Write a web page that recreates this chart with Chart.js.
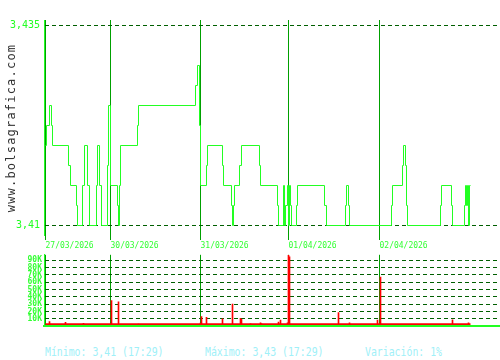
<!DOCTYPE html>
<html>
<head>
<meta charset="utf-8">
<script src="https://cdn.jsdelivr.net/npm/chart.js@4.4.1/dist/chart.umd.min.js"></script>
<style>
  html, body { margin: 0; padding: 0; background: #ffffff; }
  #wrap { position: relative; width: 500px; height: 360px; overflow: hidden; background: #ffffff; }
  canvas { position: absolute; left: 0; }
  #c1 { top: 0; }
  #c2 { top: 248px; }
  .wm { position: absolute; left: -79px; top: 121px; width: 180px; height: 14px; line-height: 14px;
        text-align: center; transform: rotate(-90deg); font-family: 'DejaVu Sans Mono', monospace;
        font-size: 12px; letter-spacing: 1.2px; color: #333333; white-space: nowrap; }
  .stat { position: absolute; top: 346px; height: 12px; line-height: 12px; font-family: 'DejaVu Sans Mono', monospace;
          font-size: 12px; color: #a0f0f8; white-space: nowrap; transform: scaleX(0.82); transform-origin: 0 0; }
</style>
</head>
<body>
<div id="wrap">
  <canvas id="c1" width="500" height="250"></canvas>
  <canvas id="c2" width="500" height="85"></canvas>
  <div class="wm">www.bolsagrafica.com</div>
  <div class="stat" style="left:45px">Mínimo: 3,41 (17:29)</div>
  <div class="stat" style="left:205px">Máximo: 3,43 (17:29)</div>
  <div class="stat" style="left:365px">Variación: 1%</div>
</div>
<script>
// ---- data (time index = intraday slot) ----
const dayStarts = [1, 66, 156, 244, 335];
const dateLabels = ["27/03/2026", "30/03/2026", "31/03/2026", "01/04/2026", "02/04/2026"];
const priceTicks = [3.41, 3.435];
const volTicks = [10000, 20000, 30000, 40000, 50000, 60000, 70000, 80000, 90000];

const priceT = [1, 2, 5, 7, 8, 24, 26, 32, 33, 38, 40, 43, 45, 52, 53, 55, 57, 63, 64,
  66, 73, 74, 75, 76, 93, 94, 151, 153, 155,
  156, 162, 163, 178, 179, 187, 188, 189, 190, 195, 197, 215, 216, 233, 234, 239, 240, 241, 243,
  244, 245, 246, 247, 252, 253, 280, 282, 301, 302, 304, 305,
  347, 348, 358, 359, 361, 362, 363, 396, 397, 407, 408, 420, 421, 422, 423, 424, 425, 426];
const priceV = [3.42, 3.4225, 3.425, 3.4225, 3.42, 3.4175, 3.415, 3.4125, 3.41, 3.415, 3.42, 3.415, 3.41, 3.415, 3.42, 3.415, 3.41, 3.4175, 3.425,
  3.415, 3.4125, 3.41, 3.415, 3.42, 3.4225, 3.425, 3.4275, 3.43, 3.4225,
  3.415, 3.4175, 3.42, 3.4175, 3.415, 3.4125, 3.41, 3.4125, 3.415, 3.4175, 3.42, 3.4175, 3.415, 3.4125, 3.41, 3.415, 3.41, 3.4125, 3.415,
  3.41, 3.415, 3.4125, 3.41, 3.4125, 3.415, 3.4125, 3.41, 3.4125, 3.415, 3.4125, 3.41,
  3.4125, 3.415, 3.4175, 3.42, 3.4175, 3.4125, 3.41, 3.4125, 3.415, 3.4125, 3.41, 3.4125, 3.415, 3.4125, 3.415, 3.41, 3.415, 3.415];

const volT = [5, 18, 21, 31, 39, 67, 74, 94, 116, 156, 157, 162, 178, 188, 196, 197, 206, 216, 217, 219,
  234, 236, 239, 240, 241, 243, 244, 245, 272, 277, 279, 280, 282, 284, 294, 298, 305, 311,
  326, 332, 333, 336, 347, 358, 408, 423, 424];
const volV = [6000, 1200, 5000, 1200, 3800, 35000, 33000, 2600, 1200, 4000, 13000, 12000, 10000, 30000, 10500, 9000, 3000, 4200, 3000, 1300,
  5500, 8000, 1200, 1200, 1200, 4500, 97000, 95000, 1000, 1000, 1000, 1000, 1000, 1000, 18500, 1000, 4500, 1000,
  1000, 1000, 8000, 67000, 1000, 1000, 8300, 1000, 4500];
const minVolT = [1, 426];
const minVolV = [2500, 2500];

// ---- styling ----
const BRIGHT = '#22ff22';
const DAYLINE = '#00a000';
const DASH = '#005f00';
Chart.defaults.font.family = "'DejaVu Sans Mono', monospace";
Chart.defaults.animation = false;

const xBase = (extra) => Object.assign({
  type: 'linear', min: -0.5, max: 455.5, offset: false,
  afterBuildTicks: a => { a.ticks = dayStarts.map(v => ({ value: v })); }
}, extra);

new Chart(document.getElementById('c1'), {
  type: 'line',
  data: {
    datasets: [{
      data: priceT.map((t, i) => ({ x: t, y: priceV[i] })),
      borderColor: BRIGHT, borderWidth: 1, pointRadius: 0, fill: false, stepped: true, tension: 0
    }]
  },
  options: {
    responsive: false, devicePixelRatio: 1,
    layout: { padding: { top: 20, left: 0, right: 0, bottom: 0 } },
    plugins: { legend: { display: false }, tooltip: { enabled: false } },
    scales: {
      x: xBase({
        afterFit: a => { a.height = 15; },
        ticks: { autoSkip: false, maxRotation: 0, minRotation: 0, align: 'start', padding: 1,
                 color: '#33ff33', font: { size: 8 },
                 callback: v => { const i = dayStarts.indexOf(v); return i >= 0 ? dateLabels[i] : ''; } },
        grid: { color: DAYLINE, lineWidth: 1, drawTicks: true, tickLength: 5, tickColor: DAYLINE, offset: false },
        border: { display: false }
      }),
      y: {
        type: 'linear', min: 3.4088125, max: 3.4356875,
        afterBuildTicks: a => { a.ticks = priceTicks.map(v => ({ value: v })); },
        afterFit: a => { a.width = 44; },
        ticks: { autoSkip: false, color: BRIGHT, font: { size: 10 }, padding: 4,
                 callback: v => String(v).replace('.', ',') },
        grid: { color: DASH, lineWidth: 1, drawTicks: false },
        border: { color: BRIGHT, width: 1, dash: [4, 3] }
      }
    }
  }
});

new Chart(document.getElementById('c2'), {
  type: 'bar',
  data: {
    datasets: [{
      type: 'bar',
      data: volT.map((t, i) => ({ x: t, y: volV[i] })),
      backgroundColor: '#ff0000', borderWidth: 0, barThickness: 1, grouped: false
    }, {
      type: 'line',
      data: minVolT.map((t, i) => ({ x: t, y: minVolV[i] })),
      borderColor: '#ff0000', borderWidth: 2, pointRadius: 0, fill: false
    }]
  },
  options: {
    responsive: false, devicePixelRatio: 1,
    layout: { padding: { top: 2, left: 0, right: 0, bottom: 0 } },
    plugins: { legend: { display: false }, tooltip: { enabled: false } },
    scales: {
      x: xBase({
        afterFit: a => { a.height = 7; },
        ticks: { display: false },
        grid: { color: DAYLINE, lineWidth: 1, drawTicks: false, offset: false },
        border: { color: BRIGHT, width: 2, z: 1 }
      }),
      y: {
        type: 'linear', min: 0, max: 97700,
        afterBuildTicks: a => { a.ticks = volTicks.map(v => ({ value: v })); },
        afterFit: a => { a.width = 44; },
        ticks: { autoSkip: false, color: '#33ff33', font: { size: 8, weight: 'bold' }, padding: 2,
                 callback: v => (v / 1000) + 'K' },
        grid: { color: DASH, lineWidth: 1, drawTicks: false },
        border: { color: BRIGHT, width: 1, dash: [4, 3] }
      }
    }
  }
});
</script>
</body>
</html>
